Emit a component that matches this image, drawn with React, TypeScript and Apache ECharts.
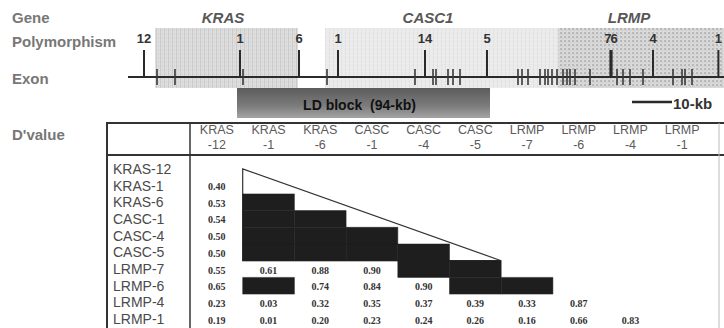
import React, { useEffect, useRef } from "react";
import * as echarts from "echarts";

// ---------- Gene track data (positions in kb along the locus) ----------
const trackMin = 0;
const trackMax = 149;
const geneNames = ["KRAS", "CASC1", "LRMP"];
const geneStarts = [6.75, 49.25, 107.5];
const geneEnds = [42.5, 107.5, 149];
const geneLabelPos = [23.75, 75, 125.25];

const snpLabels = ["12", "1", "6", "1", "14", "5", "7", "6", "4", "1"];
const snpPos = [4, 28, 42.75, 52.5, 74.25, 89.75, 120.6, 120.9, 131.25, 147.6];

const exonPos = [
  7.25, 11.75, 28.75, 49.75, 71.75, 76.25, 77, 80, 81.25, 83, 97.5, 98.5, 100,
  103, 104.25, 105, 106, 107.25, 108.75, 109.75, 110.5, 111.75, 115.5, 122.25,
  123.75, 125.5, 128.75, 136.25, 138.5, 139.25, 141,
];

const ldBlockStart = 27.25;
const ldBlockEnd = 90.5;
const ldBlockLabel = "LD block  (94-kb)";
const scaleBarStart = 126;
const scaleBarKb = 10;
const scaleBarLabel = "10-kb";

// ---------- D' table data ----------
const markerNames = [
  "KRAS-12", "KRAS-1", "KRAS-6", "CASC-1", "CASC-4",
  "CASC-5", "LRMP-7", "LRMP-6", "LRMP-4", "LRMP-1",
];
// lower triangle, row i has i values (columns 0..i-1); 1 = complete LD (black)
const dRow0: number[] = [];
const dRow1 = [0.4];
const dRow2 = [0.53, 1];
const dRow3 = [0.54, 1, 1];
const dRow4 = [0.5, 1, 1, 1];
const dRow5 = [0.5, 1, 1, 1, 1];
const dRow6 = [0.55, 0.61, 0.88, 0.9, 1, 1];
const dRow7 = [0.65, 1, 0.74, 0.84, 0.9, 1, 1];
const dRow8 = [0.23, 0.03, 0.32, 0.35, 0.37, 0.39, 0.33, 0.87];
const dRow9 = [0.19, 0.01, 0.2, 0.23, 0.24, 0.26, 0.16, 0.66, 0.83];
const dRows = [dRow0, dRow1, dRow2, dRow3, dRow4, dRow5, dRow6, dRow7, dRow8, dRow9];
const ldFirst = 1;
const ldLast = 5;

// ---------- layout/style constants ----------
const LINE_Y = 77;
const ink = "#2a2a2a";
const SANS = "Liberation Sans, Arial, sans-serif";
const SERIF = "Liberation Serif, Times New Roman, serif";

function svgTile(w: number, h: number, body: string) {
  const svg = `<svg xmlns="http://www.w3.org/2000/svg" width="${w}" height="${h}">${body}</svg>`;
  return "data:image/svg+xml;charset=utf-8," + encodeURIComponent(svg);
}

const geneFills: any[] = [
  {
    image: svgTile(
      4, 4,
      '<rect width="4" height="4" fill="#dedede"/><rect x="0" y="0" width="1" height="4" fill="#cbcbcb"/><rect x="2" y="1" width="1" height="2" fill="#d2d2d2"/>'
    ),
    repeat: "repeat",
  },
  {
    image: svgTile(
      4, 4,
      '<rect width="4" height="4" fill="#ebebeb"/><rect x="1" y="0" width="1" height="3" fill="#e0e0e0"/>'
    ),
    repeat: "repeat",
  },
  {
    image: svgTile(
      4, 4,
      '<rect width="4" height="4" fill="#d9d9d9"/><rect x="0" y="0" width="2" height="2" fill="#b8b8b8"/><rect x="2" y="2" width="1" height="1" fill="#c4c4c4"/>'
    ),
    repeat: "repeat",
  },
];

function txt(x: number, y: number, text: string, font: string, fill: string, align = "center", va = "middle") {
  return {
    type: "text",
    x,
    y,
    style: { text, font, fill, align, textAlign: align, verticalAlign: va, textVerticalAlign: va },
  };
}

export default function App() {
  const ref = useRef<HTMLDivElement>(null);

  useEffect(() => {
    if (!ref.current) return;
    const chart = echarts.init(ref.current, undefined, { renderer: "svg" });

    const cellData: number[][] = [];
    dRows.forEach((row, i) => row.forEach((v, j) => cellData.push([j, i, v])));

    const trackSeriesBase = { type: "custom", xAxisIndex: 0, yAxisIndex: 0, silent: true, clip: false };

    const option: any = {
      animation: false,
      backgroundColor: "#ffffff",
      grid: [
        { left: 128, width: 596, top: 0, height: 130 },
        { left: 191, width: 517, top: 160.5, height: 167 },
      ],
      xAxis: [
        { type: "value", gridIndex: 0, min: trackMin, max: trackMax, show: false },
        {
          type: "category",
          gridIndex: 1,
          position: "top",
          data: markerNames,
          axisLine: { show: false },
          axisTick: { show: false },
          splitLine: { show: false },
          axisLabel: {
            interval: 0,
            margin: 8,
            color: "#5a5a5a",
            fontFamily: SANS,
            fontSize: 12.5,
            lineHeight: 15,
            formatter: (v: string) => v.replace("-", "\n-"),
          },
        },
      ],
      yAxis: [
        { type: "value", gridIndex: 0, min: 0, max: 130, inverse: true, show: false },
        {
          type: "category",
          gridIndex: 1,
          inverse: true,
          data: markerNames,
          axisLine: { show: false },
          axisTick: { show: false },
          splitLine: { show: false },
          axisLabel: {
            interval: 0,
            margin: 78,
            align: "left",
            color: "#4a4a4a",
            fontFamily: SANS,
            fontSize: 14,
          },
        },
      ],
      series: [
        // gene regions
        {
          ...trackSeriesBase,
          data: geneStarts.map((s, i) => [s, geneEnds[i]]),
          renderItem: (params: any, api: any) => {
            const a = api.coord([api.value(0), 28]);
            const b = api.coord([api.value(1), 88]);
            return {
              type: "rect",
              shape: { x: a[0], y: a[1], width: b[0] - a[0], height: b[1] - a[1] },
              style: { fill: geneFills[params.dataIndex % geneFills.length] },
            };
          },
        },
        // gene names
        {
          ...trackSeriesBase,
          data: geneLabelPos.map((p) => [p]),
          renderItem: (params: any, api: any) => {
            const a = api.coord([api.value(0), 17]);
            return txt(a[0], a[1], geneNames[params.dataIndex], `italic bold 15px ${SANS}`, "#585858");
          },
        },
        // LD block bar
        {
          ...trackSeriesBase,
          data: [[ldBlockStart, ldBlockEnd]],
          renderItem: (params: any, api: any) => {
            const a = api.coord([api.value(0), 88]);
            const b = api.coord([api.value(1), 118]);
            return {
              type: "group",
              children: [
                {
                  type: "rect",
                  shape: { x: a[0], y: a[1], width: b[0] - a[0], height: b[1] - a[1] },
                  style: {
                    fill: new echarts.graphic.LinearGradient(0, 0, 0, 1, [
                      { offset: 0, color: "#5c5c5c" },
                      { offset: 0.6, color: "#7c7c7c" },
                      { offset: 1, color: "#a4a4a4" },
                    ]),
                  },
                },
                txt((a[0] + b[0]) / 2 - 4, (a[1] + b[1]) / 2 + 2, ldBlockLabel, `bold 14px ${SANS}`, "#111"),
              ],
            };
          },
        },
        // exon baseline
        {
          ...trackSeriesBase,
          data: [[trackMin, trackMax]],
          renderItem: (params: any, api: any) => {
            const a = api.coord([api.value(0), LINE_Y]);
            const b = api.coord([api.value(1), LINE_Y]);
            return {
              type: "line",
              shape: { x1: a[0], y1: a[1], x2: b[0], y2: b[1] },
              style: { stroke: ink, lineWidth: 2 },
            };
          },
        },
        // exon ticks
        {
          ...trackSeriesBase,
          data: exonPos.map((p) => [p]),
          renderItem: (params: any, api: any) => {
            const a = api.coord([api.value(0), LINE_Y - 8]);
            const b = api.coord([api.value(0), LINE_Y + 8]);
            return {
              type: "line",
              shape: { x1: a[0], y1: a[1], x2: b[0], y2: b[1] },
              style: { stroke: "#3a3a3a", lineWidth: 1.6 },
            };
          },
        },
        // polymorphisms
        {
          ...trackSeriesBase,
          data: snpPos.map((p) => [p]),
          renderItem: (params: any, api: any) => {
            const i = params.dataIndex;
            const x = api.value(0);
            const a = api.coord([x, 50]);
            const b = api.coord([x, LINE_Y]);
            const t = api.coord([x, 38]);
            let align = "center";
            if (i + 1 < snpPos.length && snpPos[i + 1] - x < 2) align = "right";
            else if (i > 0 && x - snpPos[i - 1] < 2) align = "left";
            return {
              type: "group",
              children: [
                {
                  type: "line",
                  shape: { x1: a[0], y1: a[1], x2: b[0], y2: b[1] },
                  style: { stroke: ink, lineWidth: 2 },
                },
                txt(t[0] + (align === "right" ? 1 : align === "left" ? -1 : 0), t[1], snpLabels[i], `bold 13px ${SANS}`, "#333", align),
              ],
            };
          },
        },
        // scale bar
        {
          ...trackSeriesBase,
          data: [[scaleBarStart, scaleBarStart + scaleBarKb]],
          renderItem: (params: any, api: any) => {
            const a = api.coord([api.value(0), 102]);
            const b = api.coord([api.value(1), 102]);
            return {
              type: "group",
              children: [
                {
                  type: "line",
                  shape: { x1: a[0], y1: a[1], x2: b[0], y2: b[1] },
                  style: { stroke: ink, lineWidth: 2.5 },
                },
                txt(b[0] + 1, b[1] + 1, scaleBarLabel, `bold 15px ${SANS}`, "#333", "left"),
              ],
            };
          },
        },
        // LD triangle outline
        {
          type: "custom",
          xAxisIndex: 1,
          yAxisIndex: 1,
          silent: true,
          clip: false,
          data: [[ldFirst, ldLast]],
          renderItem: (params: any, api: any) => {
            const f = api.value(0);
            const l = api.value(1);
            const sz = api.size([1, 1]);
            const apex = api.coord([f, f - 1]);
            const end = api.coord([l, l + 1]);
            const x0 = apex[0] - sz[0] / 2;
            const y0 = apex[1];
            const y1 = end[1] - sz[1] / 2;
            const x1 = end[0] + sz[0] / 2;
            return {
              type: "polygon",
              shape: { points: [[x0, y0], [x0, y1], [x1, y1]] },
              style: { fill: "#ffffff", stroke: "#333", lineWidth: 1.2 },
            };
          },
        },
        // D' cells
        {
          type: "custom",
          xAxisIndex: 1,
          yAxisIndex: 1,
          silent: true,
          clip: false,
          data: cellData,
          renderItem: (params: any, api: any) => {
            const j = api.value(0);
            const i = api.value(1);
            const v = api.value(2);
            const c = api.coord([j, i]);
            const sz = api.size([1, 1]);
            if (v >= 1) {
              return {
                type: "rect",
                shape: { x: c[0] - sz[0] / 2, y: c[1] - sz[1] / 2, width: sz[0], height: sz[1] },
                style: { fill: "#1e1e1e", stroke: "#1e1e1e", lineWidth: 0.5 },
              };
            }
            return txt(c[0], c[1] + 1, v.toFixed(2), `bold 10px ${SERIF}`, "#333");
          },
        },
      ],
      graphic: [
        txt(12, 17, "Gene", `bold 15px ${SANS}`, "#777", "left"),
        txt(12, 41, "Polymorphism", `bold 15px ${SANS}`, "#777", "left"),
        txt(12, 78, "Exon", `bold 15px ${SANS}`, "#777", "left"),
        txt(12, 134, "D'value", `bold 15px ${SANS}`, "#777", "left"),
        { type: "line", shape: { x1: 106, y1: 123, x2: 724, y2: 123 }, style: { stroke: "#333", lineWidth: 2 } },
        { type: "line", shape: { x1: 106, y1: 155, x2: 724, y2: 155 }, style: { stroke: "#333", lineWidth: 2 } },
        { type: "line", shape: { x1: 107, y1: 122, x2: 107, y2: 328 }, style: { stroke: "#333", lineWidth: 2 } },
        { type: "line", shape: { x1: 190, y1: 123, x2: 190, y2: 328 }, style: { stroke: "#333", lineWidth: 1.5 } },
        { type: "line", shape: { x1: 719, y1: 123, x2: 719, y2: 328 }, style: { stroke: "#bbb", lineWidth: 1 } },
      ],
    };

    chart.setOption(option);
    return () => chart.dispose();
  }, []);

  return (
    <div
      ref={ref}
      style={{ position: "absolute", left: 0, top: 0, width: 724, height: 328, background: "#fff" }}
    />
  );
}
